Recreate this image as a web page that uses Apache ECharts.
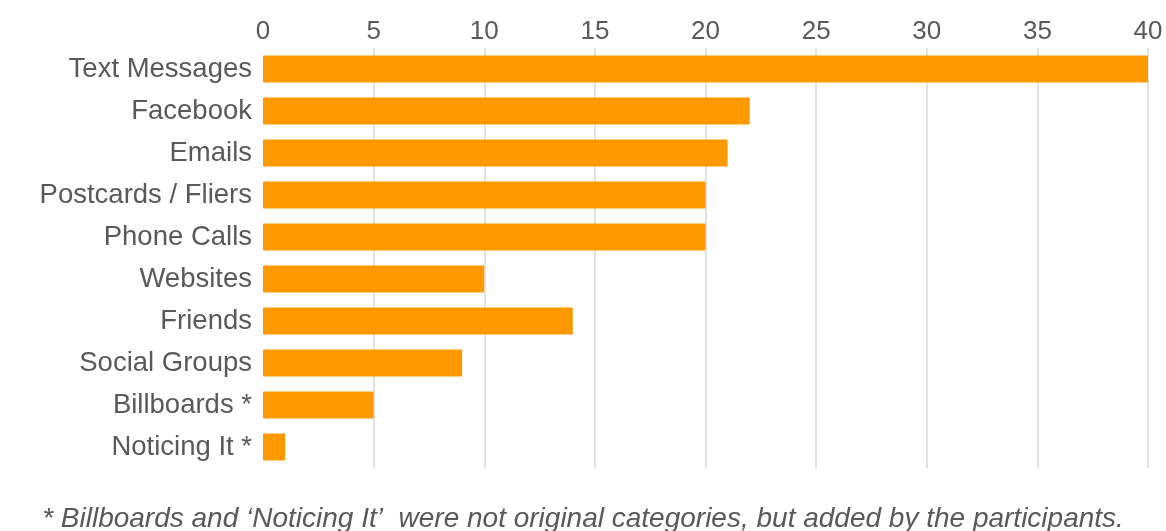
<!DOCTYPE html>
<html>
<head>
<meta charset="utf-8">
<script src="https://cdn.jsdelivr.net/npm/echarts@6/dist/echarts.min.js"></script>
<style>
html,body{margin:0;padding:0;background:#fff;}
#chart{width:1166px;height:531px;}
</style>
</head>
<body>
<div id="chart"></div>
<script>
const categories = ["Text Messages","Facebook","Emails","Postcards / Fliers","Phone Calls","Websites","Friends","Social Groups","Billboards *","Noticing It *"];
const values = [40,22,21,20,20,10,14,9,5,1];
const footnote = "* Billboards and \u2018Noticing It\u2019  were not original categories, but added by the participants.";

const chart = echarts.init(document.getElementById('chart'), null, {renderer:'canvas'});
const textColor = '#595959';
chart.setOption({
  animation:false,
  backgroundColor:'#ffffff',
  grid:{left:263, right:18, top:48, bottom:63, containLabel:false},
  xAxis:{
    type:'value', position:'top', min:0, max:40, interval:5,
    axisLine:{show:false}, axisTick:{show:false},
    axisLabel:{color:textColor, fontSize:26, fontFamily:'Liberation Sans, Arial, sans-serif', margin:3},
    splitLine:{show:true, showMinLine:false, lineStyle:{color:'#d9d9d9', width:1.5}}
  },
  yAxis:{
    type:'category', data:categories, inverse:true,
    axisLine:{show:false}, axisTick:{show:false},
    axisLabel:{color:textColor, fontSize:27.5, fontFamily:'Liberation Sans, Arial, sans-serif', margin:11}
  },
  series:[{
    type:'bar', data:values, barWidth:'64%',
    itemStyle:{color:'#FF9900', borderRadius:1}
  }],
  graphic:[{
    type:'text', left:'center', top:505,
    style:{text:footnote, fill:textColor, font:'italic 28px "Liberation Sans", Arial, sans-serif'}
  }]
});
</script>
</body>
</html>
